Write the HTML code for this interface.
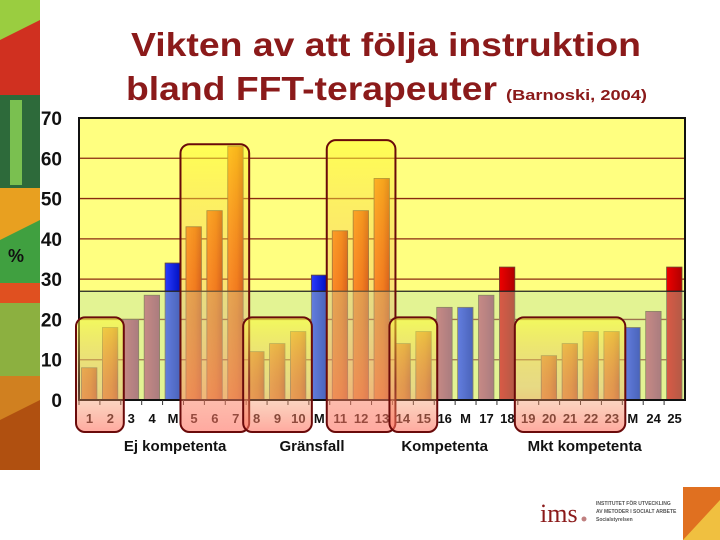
<!DOCTYPE html>
<html><head><meta charset="utf-8">
<style>
html,body{margin:0;padding:0;background:#fff;width:720px;height:540px;overflow:hidden}
svg{display:block}
text{font-family:"Liberation Sans",Arial,sans-serif;font-weight:bold}
</style></head>
<body>
<svg id="chart" width="720" height="540" viewBox="0 0 720 540" xmlns="http://www.w3.org/2000/svg">
<defs>
<linearGradient id="gOrange" x1="0" y1="0" x2="1" y2="0"><stop offset="0" stop-color="#ff7a10"/><stop offset="0.6" stop-color="#f06000"/><stop offset="1" stop-color="#c83a00"/></linearGradient>
<linearGradient id="gMauve" x1="0" y1="0" x2="1" y2="0"><stop offset="0" stop-color="#d0506a"/><stop offset="1" stop-color="#a03a60"/></linearGradient>
<linearGradient id="gBlue" x1="0" y1="0" x2="1" y2="0"><stop offset="0" stop-color="#2a3cff"/><stop offset="1" stop-color="#0010c0"/></linearGradient>
<linearGradient id="gRed" x1="0" y1="0" x2="1" y2="0"><stop offset="0" stop-color="#ee0000"/><stop offset="1" stop-color="#b00000"/></linearGradient>
<linearGradient id="gBox" x1="0" y1="0" x2="0" y2="1"><stop offset="0" stop-color="#ffff30" stop-opacity="0.55"/><stop offset="0.6" stop-color="#f0a060" stop-opacity="0.3"/><stop offset="1" stop-color="#ff7060" stop-opacity="0.6"/></linearGradient>
</defs>
<g>
<rect x="0" y="0" width="40" height="95" fill="#9acd40"/>
<polygon points="0,40 40,20 40,95 0,95" fill="#d03020"/>
<rect x="0" y="95" width="40" height="93" fill="#2d6a3a"/>
<rect x="10" y="100" width="12" height="85" fill="#7ac050"/>
<rect x="0" y="188" width="40" height="95" fill="#e8a020"/>
<polygon points="0,240 40,220 40,283 0,283" fill="#40a040"/>
<rect x="0" y="283" width="40" height="93" fill="#8cb040"/>
<rect x="0" y="283" width="40" height="20" fill="#e05020"/>
<rect x="0" y="376" width="40" height="94" fill="#d08020"/>
<polygon points="0,420 40,400 40,470 0,470" fill="#b05010"/>
<text x="8" y="262" font-size="18" fill="#111">%</text>
</g>
<g fill="#8b1a1a">
<text x="131" y="56" font-size="33" textLength="510" lengthAdjust="spacingAndGlyphs">Vikten av att följa instruktion</text>
<text x="126" y="100" font-size="33" textLength="371" lengthAdjust="spacingAndGlyphs">bland FFT-terapeuter</text>
<text x="506" y="100" font-size="15" textLength="141" lengthAdjust="spacingAndGlyphs">(Barnoski, 2004)</text>
</g>
<g id="plot"></g>
<g>
<text x="540" y="522" font-size="26" fill="#8b1a1a" style="font-family:'Liberation Serif',serif;font-weight:normal">ims</text>
<circle cx="584" cy="519" r="2.5" fill="#c08080"/>
<text x="596" y="505" font-size="5" fill="#555">INSTITUTET FÖR UTVECKLING</text>
<text x="596" y="513" font-size="5" fill="#555">AV METODER I SOCIALT ARBETE</text>
<text x="596" y="521" font-size="5" fill="#555">Socialstyrelsen</text>
<rect x="683" y="487" width="37" height="53" fill="#e07020"/>
<polygon points="683,540 720,500 720,540" fill="#f0c040"/>
</g>
</svg>
<script>
const categories=["1","2","3","4","M","5","6","7","8","9","10","M","11","12","13","14","15","16","M","17","18","19","20","21","22","23","M","24","25"];
const values=[8,18,20,26,34,43,47,63,12,14,17,31,42,47,55,14,17,23,23,26,33,0,11,14,17,17,18,22,33];
const kinds=["o","o","p","p","b","o","o","o","o","o","o","b","o","o","o","o","o","p","b","p","r","o","o","o","o","o","b","p","r"];
const yTicks=[0,10,20,30,40,50,60,70];
const bandTop=27;
const groupLabelIdx=[["Ej kompetenta",4.6],["Gränsfall",11.15],["Kompetenta",17.5],["Mkt kompetenta",24.2]];
const highlightBoxes=[[0,1,20],[5,7,63],[8,10,20],[12,14,64],[15,16,20],[21,25,20]];
const NS="http://www.w3.org/2000/svg";
const X0=79,X1=685,Y0=400,Y1=118;
const n=categories.length,bw=(X1-X0)/n;
const xs=i=>X0+i*bw;
const ys=v=>Y0-(v/70)*(Y0-Y1);
const plot=document.getElementById('plot');
function el(t,a,p){const e=document.createElementNS(NS,t);for(const k in a)e.setAttribute(k,a[k]);(p||plot).appendChild(e);return e;}
const bg=el('rect',{x:X0,y:Y1,width:X1-X0,height:Y0-Y1,fill:'#ffff80'});


yTicks.forEach(t=>{
  if(t>0&&t<70){const g=el('line',{x1:X0,x2:X1,y1:ys(t),y2:ys(t),stroke:'#8b2a10','stroke-width':1.3});
  
  }
  const lb=el('text',{x:62,y:ys(t)+7,'font-size':19,'text-anchor':'end',fill:'#111'});
  lb.textContent=t;
  
  
});
const fills={o:'url(#gOrange)',p:'url(#gMauve)',b:'url(#gBlue)',r:'url(#gRed)'};
values.forEach((v,i)=>{
  const r=el('rect',{x:xs(i)+2.5,y:ys(v),width:bw-5.5,height:Y0-ys(v),fill:fills[kinds[i]],stroke:'#6a4a30','stroke-width':0.8});
  
  
});
const band=el('rect',{x:X0,y:ys(bandTop),width:X1-X0,height:Y0-ys(bandTop),fill:'#b8e0b0','fill-opacity':0.4});


const bl=el('line',{x1:X0,x2:X1,y1:ys(bandTop),y2:ys(bandTop),stroke:'#222','stroke-width':1.2});


const fr=el('rect',{x:X0,y:Y1,width:X1-X0,height:Y0-Y1,fill:'none',stroke:'#111','stroke-width':2});


categories.forEach((c,i)=>{
  const t=el('text',{x:xs(i)+bw/2,y:423,'font-size':13,'text-anchor':'middle',fill:'#111'});
  t.textContent=c;
  
  
  el('line',{x1:xs(i),x2:xs(i),y1:Y0,y2:Y0+5,stroke:'#333'});
});
highlightBoxes.forEach(b=>{
  const x=xs(b[0])-3,w=xs(b[1]+1)-xs(b[0])+6,y=ys(b[2])-2;
  const r=el('rect',{x:x,y:y,width:w,height:432-y,rx:9,fill:'url(#gBox)',stroke:'#6a0a0a','stroke-width':2});
  
  
});
groupLabelIdx.forEach(g=>{
  const t=el('text',{x:X0+g[1]*bw,y:451,'font-size':15,'text-anchor':'middle',fill:'#111'});
  t.textContent=g[0];
  
  
});
</script>
</body></html>
